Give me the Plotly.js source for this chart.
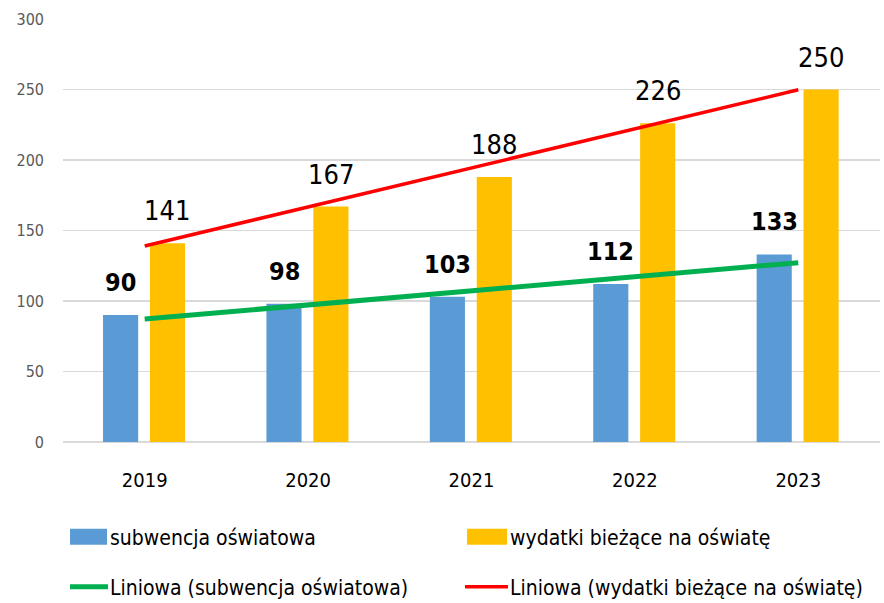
<!DOCTYPE html>
<html>
<head>
<meta charset="utf-8">
<script src="https://cdn.plot.ly/plotly-3.0.1.min.js"></script>
<style>html,body{margin:0;padding:0;background:#fff}#chart{width:884px;height:603px}</style>
</head>
<body>
<div id="chart"></div>
<script>
const years = ['2019', '2020', '2021', '2022', '2023'];
const subwencja = [90, 98, 103, 112, 133];
const wydatki = [141, 167, 188, 226, 250];
const nameSub = 'subwencja oświatowa';
const nameWyd = 'wydatki bieżące na oświatę';

const FONT = '"DejaVu Sans Condensed", "Liberation Sans", sans-serif';
const idx = years.map((_, i) => i);

function linfit(ys) {
  const n = ys.length;
  const mx = idx.reduce((a, b) => a + b, 0) / n;
  const my = ys.reduce((a, b) => a + b, 0) / n;
  let sxy = 0, sxx = 0;
  idx.forEach((x, i) => { sxy += (x - mx) * (ys[i] - my); sxx += (x - mx) * (x - mx); });
  const b = sxy / sxx, a = my - b * mx;
  return idx.map(x => a + b * x);
}

const BW = 0.215, OFF_B = -0.255, OFF_O = 0.032;

const traces = [
  { type: 'bar', x: idx, y: subwencja, name: nameSub, marker: { color: '#5B9BD5' },
    offset: OFF_B, width: BW, legend: 'legend', hoverinfo: 'skip' },
  { type: 'bar', x: idx, y: wydatki, name: nameWyd, marker: { color: '#FFC000' },
    offset: OFF_O, width: BW, legend: 'legend', hoverinfo: 'skip' },
  { type: 'scatter', mode: 'lines', x: idx, y: linfit(subwencja), name: 'Liniowa (' + nameSub + ')',
    line: { color: '#00B050', width: 5 }, legend: 'legend2', hoverinfo: 'skip' },
  { type: 'scatter', mode: 'lines', x: idx, y: linfit(wydatki), name: 'Liniowa (' + nameWyd + ')',
    line: { color: '#FF0000', width: 3.5 }, legend: 'legend2', hoverinfo: 'skip' }
];

const annotations = [];
idx.forEach(i => {
  annotations.push({ x: i + OFF_B + BW / 2, y: subwencja[i], text: '<b>' + subwencja[i] + '</b>',
    showarrow: false, yanchor: 'bottom', yshift: 16, font: { family: FONT, size: 25, color: '#000' } });
  annotations.push({ x: i + OFF_O + BW / 2, y: wydatki[i], text: String(wydatki[i]),
    showarrow: false, yanchor: 'bottom', yshift: 15, font: { family: FONT, size: 27, color: '#000' } });
});

const legendCommon = {
  orientation: 'h', xanchor: 'left', yanchor: 'middle', x: 0.0086,
  entrywidth: 355, entrywidthmode: 'pixels', bgcolor: 'rgba(0,0,0,0)',
  font: { family: FONT, size: 21, color: '#000' }, traceorder: 'normal'
};

const layout = {
  width: 884, height: 603,
  margin: { l: 63, r: 4, t: 19, b: 161, autoexpand: false },
  paper_bgcolor: '#fff', plot_bgcolor: '#fff',
  font: { family: FONT },
  barmode: 'overlay',
  showlegend: true,
  xaxis: {
    range: [-0.5, 4.5], tickvals: idx, ticktext: years, showgrid: false, zeroline: false,
    showline: false, ticks: '', tickfont: { family: FONT, size: 20, color: '#000' },
    ticklabelstandoff: 24, fixedrange: true
  },
  yaxis: {
    range: [0, 300], dtick: 50, showgrid: true, gridcolor: '#D9D9D9', gridwidth: 1.5,
    zeroline: true, zerolinecolor: '#D9D9D9', zerolinewidth: 1.5, showline: false, ticks: '',
    tickfont: { family: FONT, size: 16, color: '#595959' }, ticklabelstandoff: 18, fixedrange: true
  },
  legend: Object.assign({}, legendCommon, { y: -0.2246 }),
  legend2: Object.assign({}, legendCommon, { y: -0.343 }),
  annotations: annotations
};

const gd = document.getElementById('chart');
function widenSwatches() {
  // widen legend swatches to match the wide rectangles / long lines of the original
  gd.querySelectorAll('g.legendpoints path').forEach(p => {
    if (p.getAttribute('d') && /H-?6V/.test(p.getAttribute('d'))) p.setAttribute('d', 'M-23,8H17V-8H-23Z');
  });
  gd.querySelectorAll('g.legendlines path').forEach(p => p.setAttribute('d', 'M-5,0h43'));
}
gd.addEventListener && null;
Plotly.newPlot(gd, traces, layout, { staticPlot: true, displayModeBar: false }).then(() => {
  widenSwatches();
  gd.on('plotly_afterplot', widenSwatches);
  requestAnimationFrame(widenSwatches);
  setTimeout(widenSwatches, 50);
});
</script>
</body>
</html>
